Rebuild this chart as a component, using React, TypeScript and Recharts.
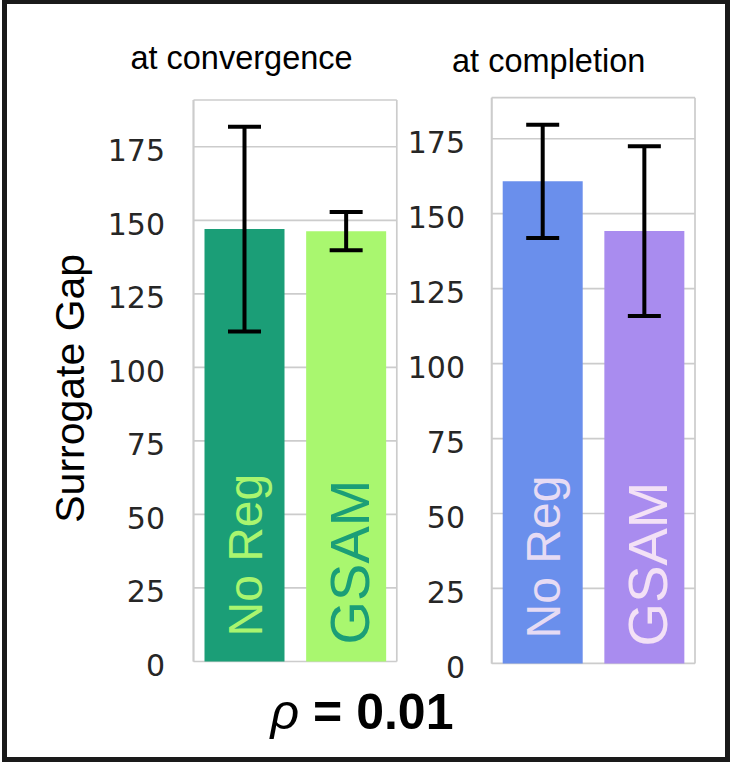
import { BarChart, Bar, XAxis, YAxis, CartesianGrid, ErrorBar, Cell, LabelList } from 'recharts'

// values
const categories = ['No Reg', 'GSAM']
const convergenceMeans = [147.0, 146.3]
const convergenceErrors = [34.8, 6.5]
const completionMeans = [160.8, 144.2]
const completionErrors = [18.9, 28.3]
const yTicks = [0, 25, 50, 75, 100, 125, 150, 175]
const rhoValue = '0.01'

const convergenceFills = ['#1b9e77', '#a9f76f']
const convergenceText = ['#a9f56f', '#1b9e77']
const completionFills = ['#6a8fec', '#a98cef']
const completionText = ['#e6dbf4', '#f3e1f6']

const sans = "'Liberation Sans', Arial, Helvetica, sans-serif"
const gridColor = '#cccccc'
const frameLine = { stroke: gridColor, strokeWidth: 1.7 }

// per-category label look (No Reg, GSAM)
const labelLook = [
  { size: 48, shift: 17.2, lift: 25 },
  { size: 56, shift: 22.5, lift: 17 },
]

function YTick({ x, y, payload }: any) {
  return (
    <text x={x} y={y + 14.5} textAnchor="end" fontFamily="'DejaVu Sans', sans-serif" fontSize={30} fill="#262626">
      {payload.value}
    </text>
  )
}

function barLabel(colors: string[]) {
  return (props: any) => {
    const vb = props.viewBox ?? props
    const i = props.index ?? categories.indexOf(props.value)
    const look = labelLook[i]
    const cx = vb.x + vb.width / 2 + look.shift
    const bottom = vb.y + vb.height - look.lift
    return (
      <text transform={`translate(${cx},${bottom}) rotate(-90)`} fontFamily={sans} fontSize={look.size} fill={colors[i]}>
        {props.value}
      </text>
    )
  }
}

interface PanelProps {
  means: number[]
  errors: number[]
  fills: string[]
  textFills: string[]
  left: number
  width: number
  axisWidth: number
  tickGap: number
  top: number
  bottom: number
}

function Panel({ means, errors, fills, textFills, left, width, axisWidth, tickGap, top, bottom }: PanelProps) {
  const data = categories.map((name, i) => ({ name, value: means[i], err: errors[i] }))
  const yMax = Math.max(...data.map((d) => d.value + d.err)) * 1.05
  return (
    <div style={{ position: 'absolute', left, top: 0 }}>
      <BarChart width={width} height={700} data={data} margin={{ top, right: width - axisWidth - 203.3, bottom, left: 0 }}>
        <CartesianGrid stroke={gridColor} strokeWidth={1.7} />
        <Bar dataKey="value" barSize={80} isAnimationActive={false}>
          {data.map((d, i) => (
            <Cell key={d.name} fill={fills[i]} />
          ))}
          <ErrorBar dataKey="err" width={16.5} strokeWidth={4} stroke="#000" />
          <LabelList dataKey="name" content={barLabel(textFills)} />
        </Bar>
        <XAxis dataKey="name" tick={false} tickLine={false} height={0} axisLine={frameLine} />
        <XAxis xAxisId="top" orientation="top" dataKey="name" tick={false} tickLine={false} height={0} axisLine={frameLine} />
        <YAxis
          domain={[0, yMax]}
          ticks={yTicks}
          width={axisWidth}
          tickSize={0}
          tickMargin={tickGap}
          tick={YTick}
          axisLine={frameLine}
        />
        <YAxis yAxisId="right" orientation="right" domain={[0, yMax]} tick={false} tickLine={false} width={0} axisLine={frameLine} />
      </BarChart>
    </div>
  )
}

export default function App() {
  return (
    <div style={{ position: 'absolute', left: 0, top: 0, width: 745, height: 772, background: '#fff' }}>
      <svg width={745} height={772} style={{ position: 'absolute', left: 0, top: 0 }}>
        <text x={241.5} y={69} textAnchor="middle" fontFamily={sans} fontSize={32.5} fill="#000">
          at convergence
        </text>
        <text x={548.7} y={71.5} textAnchor="middle" fontFamily={sans} fontSize={32.5} fill="#000">
          at completion
        </text>
        <text transform="translate(83.5,388.3) rotate(-90)" textAnchor="middle" fontFamily={sans} fontSize={41} fill="#000">
          Surrogate Gap
        </text>
        <text x={362} y={729.3} textAnchor="middle" fontFamily={sans} fontSize={50} fontWeight="bold" fill="#000">
          <tspan fontStyle="italic" fontWeight="normal">ρ</tspan> = {rhoValue}
        </text>
      </svg>
      <Panel
        means={convergenceMeans}
        errors={convergenceErrors}
        fills={convergenceFills}
        textFills={convergenceText}
        left={0}
        width={410}
        axisWidth={193.5}
        tickGap={28.5}
        top={100}
        bottom={38.5}
      />
      <Panel
        means={completionMeans}
        errors={completionErrors}
        fills={completionFills}
        textFills={completionText}
        left={380}
        width={330}
        axisWidth={111.7}
        tickGap={26.7}
        top={97.7}
        bottom={36.6}
      />
      <div
        style={{
          position: 'absolute',
          left: 2,
          top: -1,
          width: 728,
          height: 763,
          border: '5px solid #1a1a1a',
          boxSizing: 'border-box',
        }}
      />
    </div>
  )
}
